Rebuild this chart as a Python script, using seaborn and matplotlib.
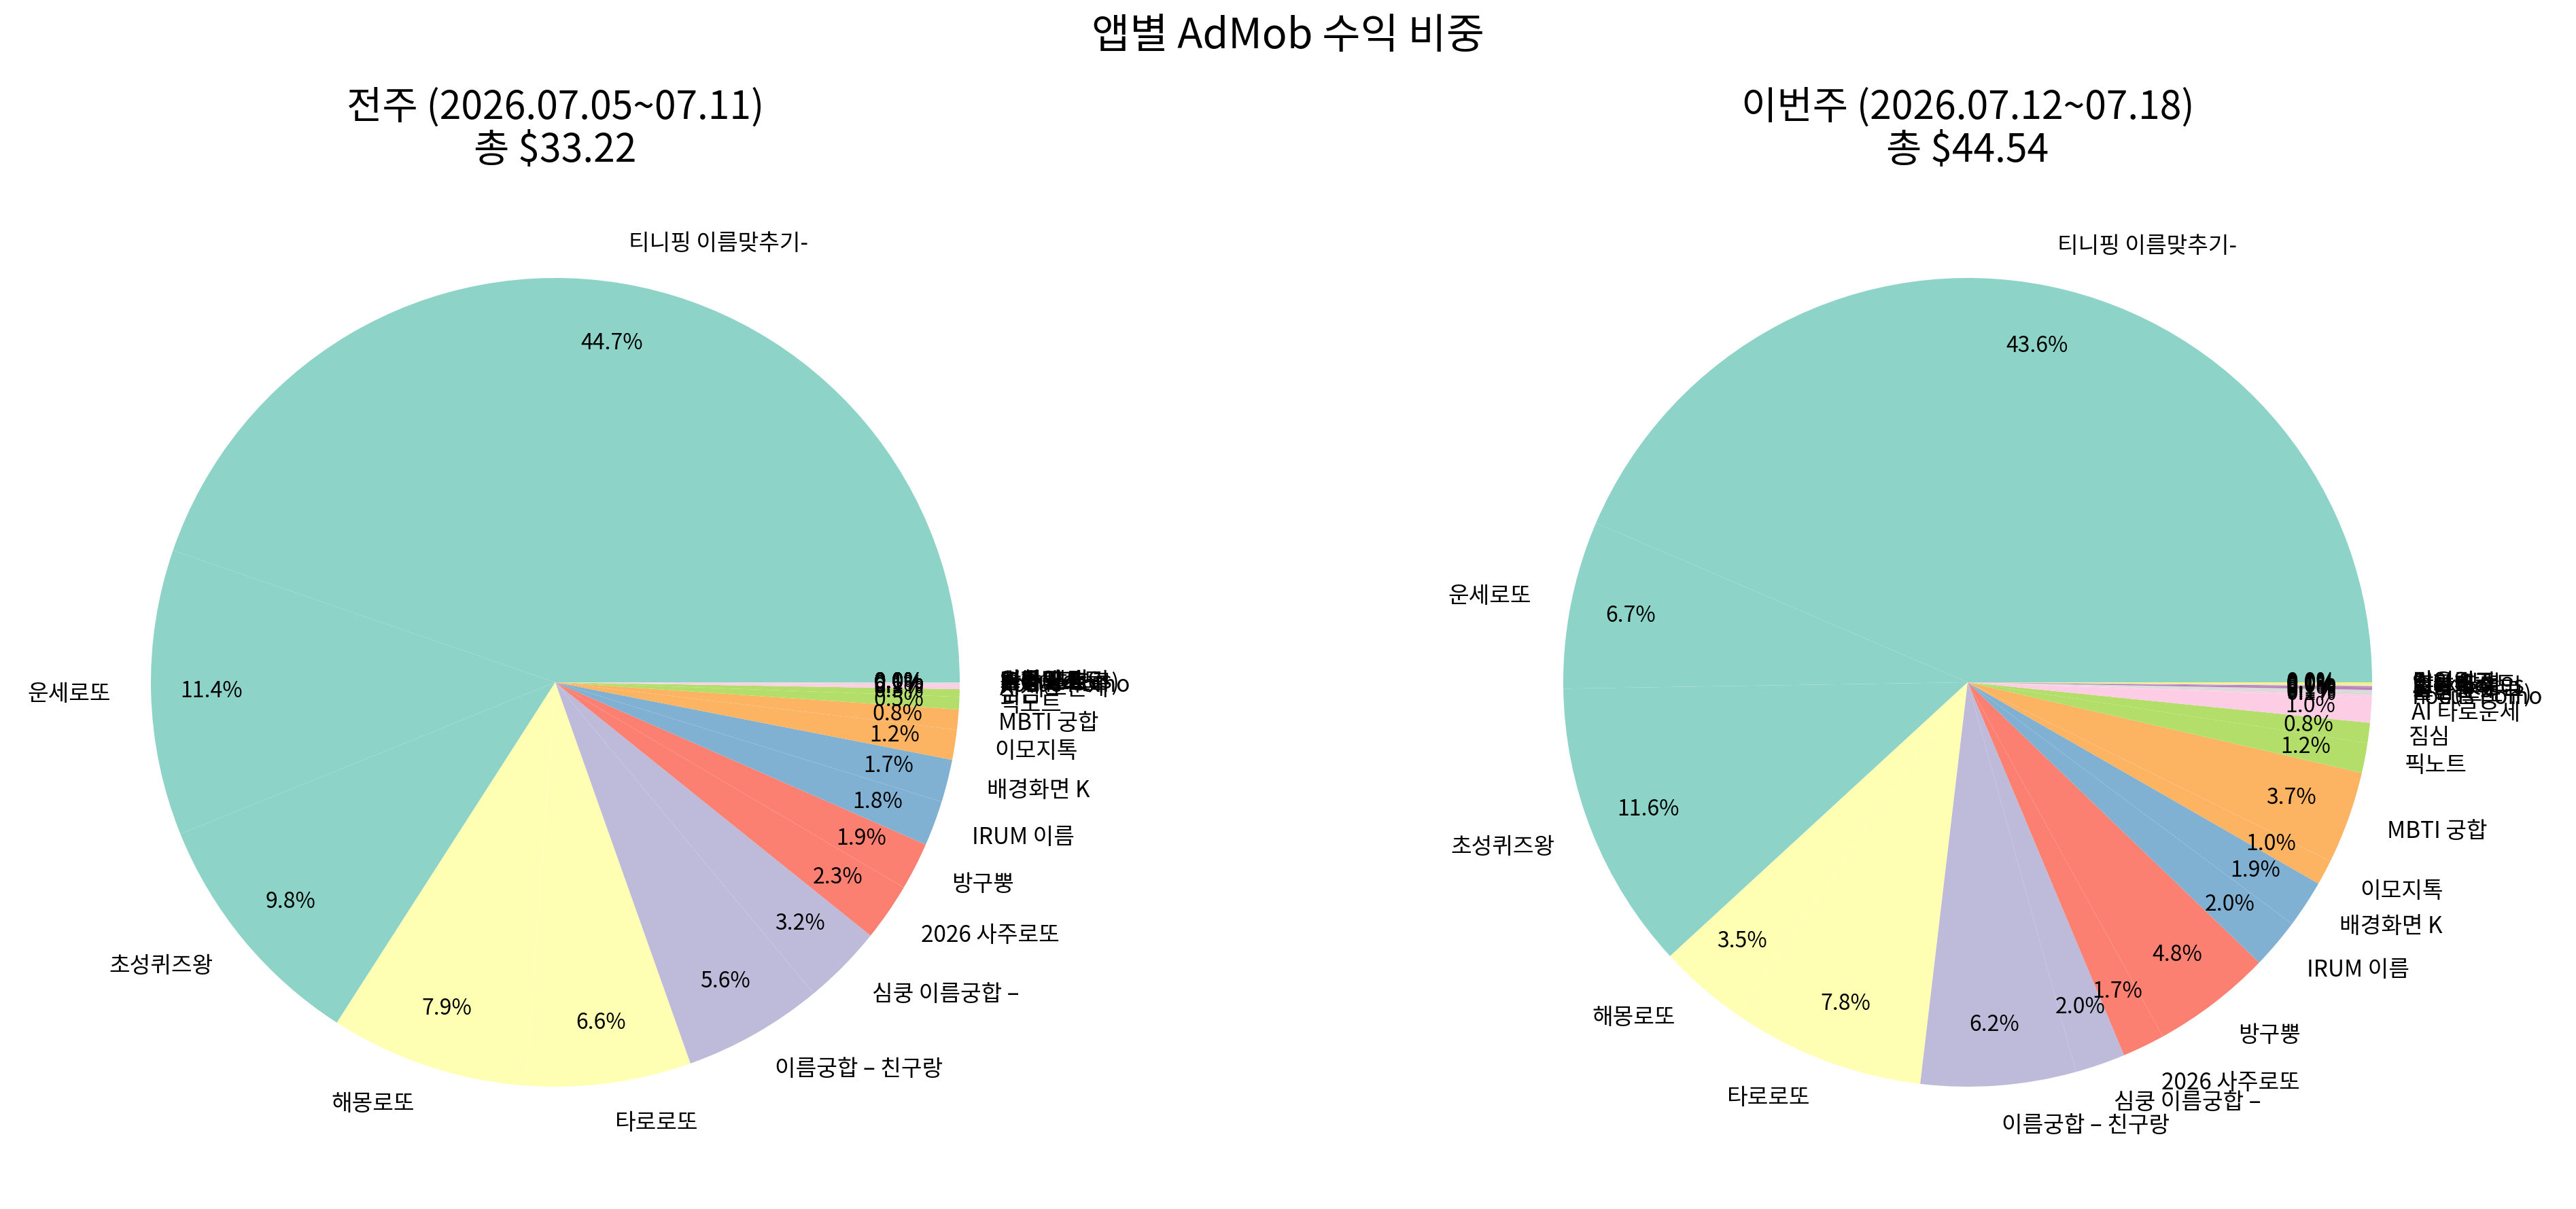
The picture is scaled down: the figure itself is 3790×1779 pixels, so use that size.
import numpy as np
import matplotlib
matplotlib.use("Agg")
import matplotlib.pyplot as plt
import seaborn as sns

# app names, sorted by last week's revenue
apps = ["티니핑 이름맞추기-", "운세로또", "초성퀴즈왕", "해몽로또", "타로로또",
        "이름궁합 – 친구랑", "심쿵 이름궁합 –", "2026 사주로또", "방구뿡", "IRUM 이름",
        "배경화면 K", "이모지톡", "MBTI 궁합", "픽노트", "짐심", "AI 타로운세",
        "Focus Pomo", "수학(스도쿠)", "홀덤 포커", "사주팔자", "오늘의 명언",
        "Pick Focus", "심리테스트", "역학 달력", "마음일기", "단어퀴즈"]

# revenue share (%)
prev_share = [44.7, 11.4, 9.8, 7.9, 6.6, 5.6, 3.2, 2.3, 1.9, 1.8,
              1.7, 1.2, 0.8, 0.5, 0.3, 0.1, 0.1, 0.05, 0.02, 0.0,
              0.0, 0.0, 0.0, 0.0, 0.0, 0.0]
curr_share = [43.6, 6.7, 11.6, 3.5, 7.8, 6.2, 2.0, 1.7, 4.8, 2.0,
              1.9, 1.0, 3.7, 1.2, 0.8, 1.0, 0.1, 0.1, 0.1, 0.1,
              0.05, 0.03, 0.02, 0.05, 0.03, 0.02]

prev_total = 33.22
curr_total = 44.54
prev_period = "2026.07.05~07.11"
curr_period = "2026.07.12~07.18"

sns.set_style("white")
plt.rcParams['font.family'] = ['Noto Sans CJK KR', 'DejaVu Sans']
plt.rcParams['text.color'] = 'black'

W, H, DPI = 3791, 1779, 200
fig = plt.figure(figsize=(W / DPI, H / DPI), dpi=DPI)

colors = matplotlib.colormaps['Set3'](np.linspace(0, 1, len(apps)))

side = 1487.5
panels = [
    (73.25, prev_share, f"전주 ({prev_period})\n총 ${prev_total:.2f}"),
    (2151.25, curr_share, f"이번주 ({curr_period})\n총 ${curr_total:.2f}"),
]

for left, share, title in panels:
    ax = fig.add_axes([left / W, 31.25 / H, side / W, side / H])
    wedges, texts, autotexts = ax.pie(share, labels=apps, colors=colors,
                                      autopct='%1.1f%%', pctdistance=0.85,
                                      wedgeprops={'linewidth': 0},
                                      textprops={'fontsize': 12, 'color': 'black'})
    for t in autotexts:
        t.set_fontsize(11.5)
    ax.set_xlim(-1.25, 1.25)
    ax.set_ylim(-1.25, 1.25)
    ax.set_aspect('equal')
    ax.set_title(title, fontsize=20.5, pad=8, color='black', linespacing=1.1)

fig.suptitle("앱별 AdMob 수익 비중", fontsize=22, y=0.97, va='center', color='black')

fig.savefig("out.png", dpi=DPI)
